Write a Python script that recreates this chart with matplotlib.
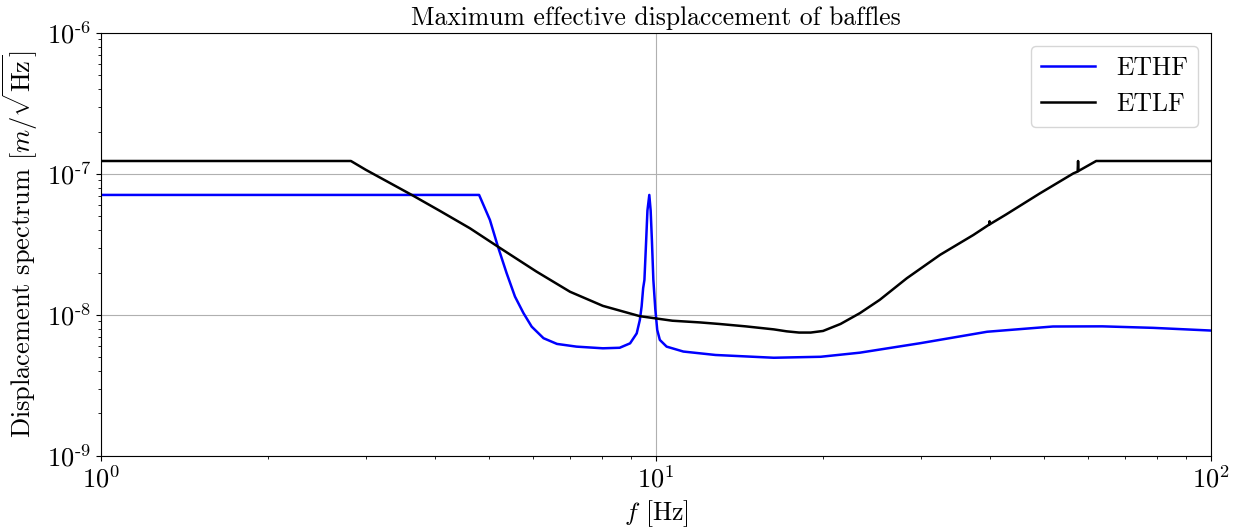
import numpy as np
import matplotlib
matplotlib.use("Agg")
import matplotlib.pyplot as plt
from matplotlib.ticker import FuncFormatter

plt.rcParams['font.family'] = 'serif'
plt.rcParams['font.serif'] = ['cmr10', 'DejaVu Serif']
plt.rcParams['mathtext.fontset'] = 'cm'
plt.rcParams['axes.unicode_minus'] = False
plt.rcParams['axes.formatter.use_mathtext'] = True

# ETHF curve
f_hf = [1.0, 4.8, 5.02, 5.19, 5.38, 5.57, 5.77, 5.97, 6.27, 6.63, 7.19, 8.02,
        8.6, 8.98, 9.23, 9.35, 9.42, 9.48, 9.53, 9.6, 9.65, 9.725, 9.78, 9.83,
        9.89, 9.97, 10.05, 10.16, 10.45, 11.2, 12.8, 16.3, 19.8, 23.3, 29.9,
        39.5, 51.9, 63.7, 78.6, 100.0]
x_hf = [7.1e-8, 7.1e-8, 4.72e-8, 3.05e-8, 1.98e-8, 1.35e-8, 1.03e-8, 8.26e-9,
        6.84e-9, 6.23e-9, 5.96e-9, 5.8e-9, 5.85e-9, 6.29e-9, 7.4e-9, 9.2e-9,
        1.15e-8, 1.55e-8, 1.77e-8, 3.4e-8, 5.5e-8, 7.1e-8, 5.5e-8, 3.4e-8,
        1.77e-8, 1.1e-8, 7.83e-9, 6.65e-9, 5.96e-9, 5.5e-9, 5.2e-9, 4.97e-9,
        5.05e-9, 5.4e-9, 6.3e-9, 7.6e-9, 8.28e-9, 8.3e-9, 8.1e-9, 7.75e-9]

# ETLF curve
f_lf = [1.0, 2.82, 3.0, 3.63, 4.08, 4.62, 5.19, 6.09, 7.0, 8.02, 9.35,
        10.7, 12.0, 13.0, 14.5, 16.3, 17.2, 18.1, 19.0, 20.0, 21.5, 23.3,
        25.3, 28.3, 32.5, 37.3, 39.85, 39.9, 39.95, 42.7, 49.1, 56.5,
        57.5, 57.6, 57.7, 62.1, 100.0]
x_lf = [1.236e-7, 1.236e-7, 1.07e-7, 7.1e-8, 5.47e-8, 4.12e-8, 3.05e-8,
        2.03e-8, 1.46e-8, 1.16e-8, 9.8e-9, 9.1e-9, 8.85e-9, 8.63e-9, 8.3e-9,
        7.9e-9, 7.65e-9, 7.5e-9, 7.5e-9, 7.7e-9, 8.63e-9, 1.03e-8, 1.28e-8,
        1.82e-8, 2.67e-8, 3.69e-8, 4.38e-8, 4.62e-8, 4.4e-8, 5.15e-8, 7.26e-8,
        1.01e-7, 1.04e-7, 1.236e-7, 1.05e-7, 1.236e-7, 1.236e-7]


def pow10_label(v, pos):
    e = int(round(np.log10(v)))
    if e < 0:
        return r'$10^{\text{-}%d}$' % (-e)
    return r'$10^{%d}$' % e


fig = plt.figure(figsize=(12.44, 5.32), dpi=100)
ax = fig.add_axes([0.0812, 0.143, 0.8923, 0.795])

ax.loglog(f_hf, x_hf, color='blue', lw=1.8, label='ETHF')
ax.loglog(f_lf, x_lf, color='black', lw=1.8, label='ETLF')

ax.set_xlim(1, 100)
ax.set_ylim(1e-9, 1e-6)
ax.xaxis.set_major_formatter(FuncFormatter(pow10_label))
ax.yaxis.set_major_formatter(FuncFormatter(pow10_label))
ax.grid(True, which='major')
ax.set_title('Maximum effective displaccement of baffles', fontsize=18.5)
ax.set_xlabel(r'$f$ [Hz]', fontsize=18.5)
ax.set_ylabel(r'Displacement spectrum $[m/\sqrt{\mathrm{Hz}}]$', fontsize=19)
ax.yaxis.set_label_coords(-0.055, 0.5)
ax.tick_params(axis='both', which='major', labelsize=19)
ax.legend(loc='upper right', fontsize=18.5, handlelength=2.1)

fig.savefig('out.png', dpi=100)
